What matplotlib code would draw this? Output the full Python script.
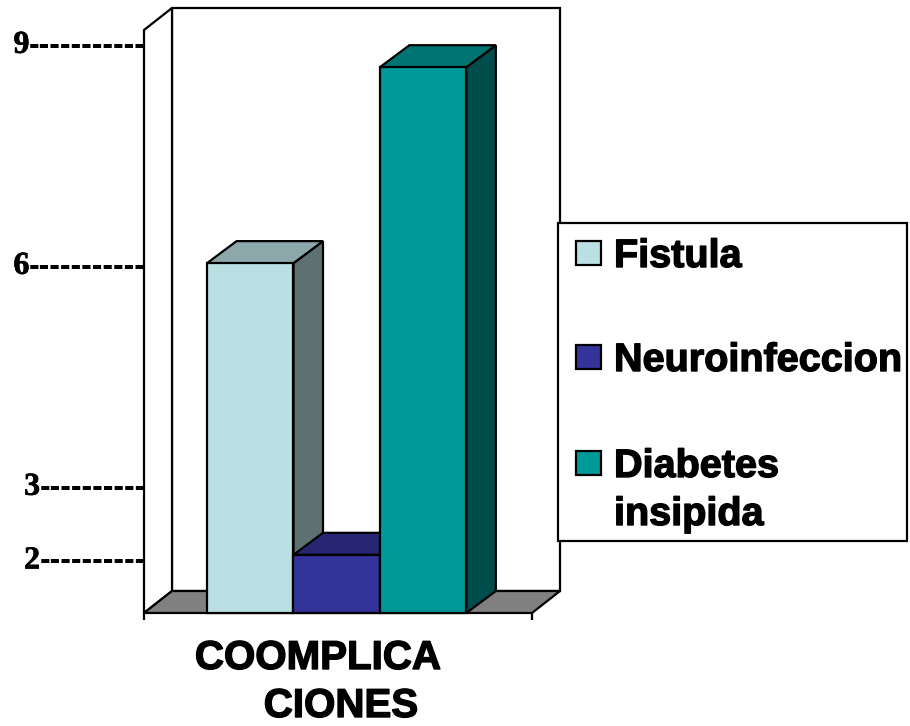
#!/usr/bin/env python3
import matplotlib
matplotlib.use("Agg")
import matplotlib.pyplot as plt
import matplotlib.patheffects as pe
from matplotlib.patches import Polygon, Rectangle
from matplotlib.transforms import Affine2D

CATEGORIES = ["Fistula", "Neuroinfeccion", "Diabetes\ninsipida"]
VALUES = [6.05, 2.09, 8.71]
TICK_VALUES = [9, 6, 3, 2]
TICK_LABELS = ["9", "6", "3", "2"]
TICK_DASHES = ["-----------", "-----------", "----------", "----------"]
AXIS_LABEL_LINES = ["COOMPLICA", "CIONES"]

FRONT = ["#BBE0E3", "#333399", "#009999"]
TOP = ["#8CA8AA", "#262673", "#007373"]
SIDE = ["#5E7072", "#1A1A4D", "#004D4D"]
FLOOR = "#808080"

W, H = 910, 726
LW = 1.6
SANS = "Liberation Sans"
SERIF = "Liberation Serif"
HEAVY = [pe.withStroke(linewidth=1.0, foreground="black")]


def px(x, y):
    return x / W, 1 - y / H


def poly(ax, pts, color, z):
    ax.add_patch(Polygon(pts, closed=True, facecolor=color, edgecolor="black",
                         linewidth=LW, joinstyle="miter", clip_on=False, zorder=z))


fig = plt.figure(figsize=(W / 100, H / 100), dpi=100, facecolor="white")
left, bottom = px(144, 613)
ax = fig.add_axes([left, bottom, (532 - 144) / W, (613 - 30) / H])
ax.patch.set_visible(False)
for spine in ax.spines.values():
    spine.set_visible(False)

xmin, xmax = -1.23, 3.26
ymin, ymax = 1.30, 9.215
ax.set_xlim(xmin, xmax)
ax.set_ylim(ymin, ymax)

# depth of the box and of the bars in data units
x_scale = (532 - 144) / (xmax - xmin)
wall_dx = 28 / x_scale
bar_dx = 29.5 / x_scale
dy = 22 / ((613 - 30) / (ymax - ymin))

# back wall, side wall, floor
poly(ax, [(xmin + wall_dx, ymin + dy), (xmax + wall_dx, ymin + dy),
          (xmax + wall_dx, ymax + dy), (xmin + wall_dx, ymax + dy)], "white", 1)
poly(ax, [(xmin, ymin), (xmin, ymax), (xmin + wall_dx, ymax + dy), (xmin + wall_dx, ymin + dy)], "white", 1)
poly(ax, [(xmin, ymin), (xmax, ymin), (xmax + wall_dx, ymin + dy), (xmin + wall_dx, ymin + dy)], FLOOR, 1)

# 3D bars, left to right so each front face covers the previous side face
for i, value in enumerate(VALUES):
    x0, x1 = i - 0.5, i + 0.5
    poly(ax, [(x1, ymin), (x1 + bar_dx, ymin + dy), (x1 + bar_dx, value + dy), (x1, value)], SIDE[i], 2 + i)
    poly(ax, [(x0, value), (x1, value), (x1 + bar_dx, value + dy), (x0 + bar_dx, value + dy)], TOP[i], 2 + i)
    poly(ax, [(x0, ymin), (x1, ymin), (x1, value), (x0, value)], FRONT[i], 2 + i)

ax.set_xticks([xmin, xmax])
ax.set_xticklabels([])
ax.tick_params(axis="x", length=5, width=LW, color="black")

# digits sit left of a hand-typed run of heavy dashes
ax.set_yticks(TICK_VALUES)
ax.set_yticklabels(TICK_LABELS, family=SERIF, fontweight="bold", fontsize=23, va="baseline")
ax.tick_params(axis="y", length=0, pad=-1)
for label, dashes, value in zip(ax.get_yticklabels(), TICK_DASHES, TICK_VALUES):
    width = len(dashes) * 10.63 - 1
    label.set_transform(label.get_transform() + Affine2D().translate(-width, -7))
    label.set_path_effects([pe.withStroke(linewidth=0.5, foreground="black")])
    ax.annotate(dashes, xy=(0, value), xycoords=ax.get_yaxis_transform(),
                xytext=(2, -8), textcoords="offset pixels", ha="right", va="baseline",
                family=SANS, fontweight="bold", fontsize=23, annotation_clip=False)

# category caption
x, y = px(318, 669)
fig.text(x, y, AXIS_LABEL_LINES[0], family=SANS, fontweight="bold", fontsize=29, ha="center",
         va="baseline", path_effects=HEAVY)
x, y = px(341, 717)
fig.text(x, y, AXIS_LABEL_LINES[1], family=SANS, fontweight="bold", fontsize=29, ha="center",
         va="baseline", path_effects=HEAVY)

# legend box
x, y = px(558, 541)
fig.add_artist(Rectangle((x, y), (907 - 558) / W, (541 - 223) / H, transform=fig.transFigure,
                         facecolor="white", edgecolor="black", linewidth=LW, zorder=5))
key_tops = [241, 345, 451]
text_baselines = [267, 371, 477]
for name, color, key_top, base in zip(CATEGORIES, FRONT, key_tops, text_baselines):
    x, y = px(576, key_top + 24)
    fig.add_artist(Rectangle((x, y), 25 / W, 24 / H, transform=fig.transFigure,
                             facecolor=color, edgecolor="black", linewidth=LW, zorder=6))
    for k, line in enumerate(name.split("\n")):
        x, y = px(614, base + k * 48)
        fig.text(x, y, line, family=SANS, fontweight="bold", fontsize=28.5, ha="left",
                 va="baseline", zorder=6, path_effects=HEAVY)

fig.savefig("out.png", dpi=100)
